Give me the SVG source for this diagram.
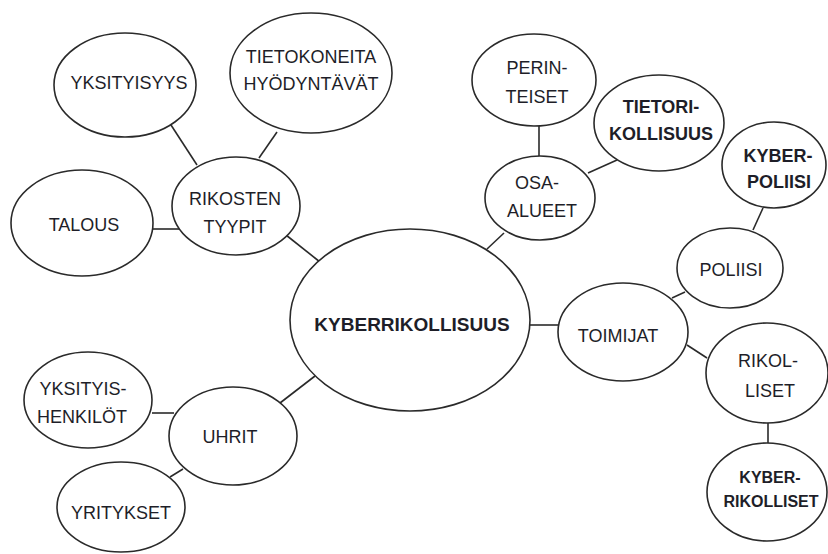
<svg xmlns="http://www.w3.org/2000/svg" width="828" height="554" viewBox="0 0 828 554">
<style>
.n ellipse{fill:#fff;stroke:#2a2a2a;stroke-width:1.6}
.c line{stroke:#2a2a2a;stroke-width:1.6}
text{font-family:"Liberation Sans",Arial,sans-serif;font-size:18px;fill:#1e1e28;text-anchor:middle}
.b{font-weight:bold}
</style>
<rect width="828" height="554" fill="#fff"/>
<g id="connectors" class="c">
<line x1="171" y1="125" x2="197" y2="165"/>
<line x1="277" y1="132" x2="259" y2="158"/>
<line x1="153" y1="229" x2="182" y2="229"/>
<line x1="286" y1="235" x2="320" y2="262"/>
<line x1="539" y1="126" x2="539" y2="157"/>
<line x1="617" y1="160" x2="588" y2="173"/>
<line x1="504" y1="233" x2="487" y2="249"/>
<line x1="763" y1="208" x2="753" y2="230"/>
<line x1="685" y1="292" x2="672" y2="298"/>
<line x1="530" y1="325" x2="558" y2="325"/>
<line x1="687" y1="345" x2="707" y2="358"/>
<line x1="768" y1="423" x2="768" y2="443"/>
<line x1="152" y1="413" x2="174" y2="413"/>
<line x1="170" y1="477" x2="183" y2="469"/>
<line x1="280" y1="403" x2="315" y2="376"/>
</g>
<g id="n-center" class="n"><ellipse cx="410" cy="320" rx="120" ry="91"/><text class="b" x="412" y="331" style="font-size:19px">KYBERRIKOLLISUUS</text></g>
<g id="n-yksityisyys" class="n"><ellipse cx="125" cy="85" rx="71" ry="52"/><text x="129" y="89">YKSITYISYYS</text></g>
<g id="n-tietokoneita" class="n"><ellipse cx="311" cy="73" rx="81" ry="60"/><text x="311" y="63">TIETOKONEITA</text><text x="311" y="90">HYÖDYNTÄVÄT</text></g>
<g id="n-rikosten" class="n"><ellipse cx="236" cy="206" rx="64" ry="49"/><text x="235" y="205">RIKOSTEN</text><text x="235" y="233">TYYPIT</text></g>
<g id="n-talous" class="n"><ellipse cx="82" cy="223" rx="71" ry="53"/><text x="84" y="231">TALOUS</text></g>
<g id="n-perinteiset" class="n"><ellipse cx="534" cy="80" rx="62" ry="46"/><text x="537" y="74">PERIN-</text><text x="537" y="103">TEISET</text></g>
<g id="n-tietorikollisuus" class="n"><ellipse cx="659" cy="123" rx="65" ry="48"/><text class="b" x="661" y="113">TIETORI-</text><text class="b" x="661" y="140">KOLLISUUS</text></g>
<g id="n-osa-alueet" class="n"><ellipse cx="540" cy="198" rx="55" ry="42"/><text x="537" y="189">OSA-</text><text x="542" y="217">ALUEET</text></g>
<g id="n-kyberpoliisi" class="n"><ellipse cx="774" cy="165" rx="52" ry="43"/><text class="b" x="778" y="162">KYBER-</text><text class="b" x="779" y="188">POLIISI</text></g>
<g id="n-poliisi" class="n"><ellipse cx="730" cy="268" rx="53" ry="40"/><text x="731" y="276">POLIISI</text></g>
<g id="n-toimijat" class="n"><ellipse cx="623" cy="332" rx="65" ry="49"/><text x="618" y="342">TOIMIJAT</text></g>
<g id="n-rikolliset" class="n"><ellipse cx="767" cy="373" rx="61" ry="50"/><text x="768" y="367">RIKOL-</text><text x="770" y="397">LISET</text></g>
<g id="n-kyberrikolliset" class="n"><ellipse cx="767" cy="492" rx="60" ry="49"/><text class="b" x="770" y="483" style="font-size:16px">KYBER-</text><text class="b" x="771" y="507" style="font-size:16px">RIKOLLISET</text></g>
<g id="n-yksityishenkilot" class="n"><ellipse cx="88" cy="400" rx="64" ry="48"/><text x="83" y="395">YKSITYIS-</text><text x="82" y="423">HENKILÖT</text></g>
<g id="n-uhrit" class="n"><ellipse cx="233" cy="436" rx="64" ry="49"/><text x="230" y="443">UHRIT</text></g>
<g id="n-yritykset" class="n"><ellipse cx="121" cy="507" rx="64" ry="45"/><text x="121" y="519">YRITYKSET</text></g>
</svg>
